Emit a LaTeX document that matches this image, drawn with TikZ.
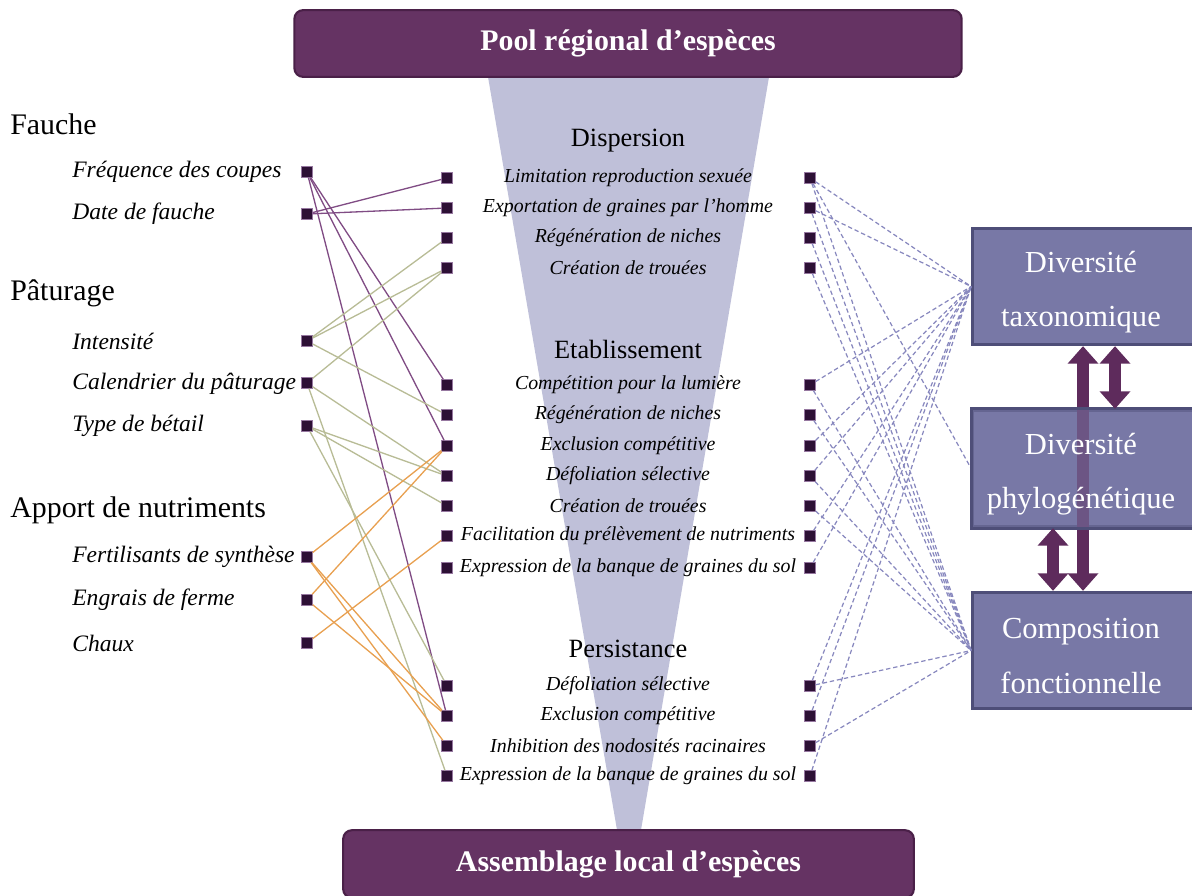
\documentclass[tikz,border=0pt]{standalone}
\usepackage{fontspec}
\setmainfont{Liberation Serif}
\usetikzlibrary{arrows.meta}
\definecolor{bannerc}{RGB}{101,51,99}
\definecolor{bannerb}{RGB}{74,32,72}
\definecolor{funnelc}{RGB}{191,192,217}
\definecolor{boxf}{RGB}{120,120,166}
\definecolor{boxb}{RGB}{78,78,120}
\definecolor{sqf}{RGB}{45,16,53}
\definecolor{sqb}{RGB}{150,120,160}
\definecolor{cmow}{RGB}{128,76,132}
\definecolor{cgraze}{RGB}{184,188,150}
\definecolor{cnut}{RGB}{232,160,80}
\definecolor{cdash}{RGB}{136,136,190}
\definecolor{arrowc}{RGB}{94,43,92}
\begin{document}
\begin{tikzpicture}[x=0.02cm,y=-0.02cm,
  sq/.style={draw=sqb, line width=0.3pt, fill=sqf, minimum size=6.2pt, inner sep=0pt},
  hdr/.style={anchor=west, font=\fontsize{17}{20}\selectfont, inner sep=0pt},
  itm/.style={anchor=west, font=\fontsize{13.4}{16}\selectfont\itshape, inner sep=0pt},
  ftitle/.style={font=\fontsize{15}{18}\selectfont, inner sep=0pt},
  fitem/.style={font=\fontsize{11.3}{14}\selectfont\itshape, inner sep=0pt},
  mow/.style={cmow, line width=0.75pt},
  graze/.style={cgraze, line width=0.75pt},
  nut/.style={cnut, line width=0.75pt},
  dsh/.style={cdash, line width=0.7pt, dash pattern=on 2.5pt off 1.6pt},
  bannerbox/.style={rectangle, rounded corners=5pt, fill=bannerc, draw=bannerb, line width=1.2pt, text=white, font=\bfseries\fontsize{17}{20}\selectfont},
  divbox/.style={rectangle, fill=boxf, draw=boxb, line width=1.6pt, minimum width=136pt, minimum height=66.3pt, inner sep=0pt},
  boxtxt/.style={text=white, align=center, font=\fontsize{17.4}{31}\selectfont, inner sep=0pt},
  dbl/.style={arrowc, line width=7pt, arrows={Triangle[width=17pt,length=10pt]-Triangle[width=17pt,length=10pt]}}
]
\useasboundingbox (0,0) rectangle (1192,895);
% funnel
\fill[funnelc] (488,77) -- (769,77) -- (641,830) -- (617,830) -- cycle;
% banners
\node[bannerbox, minimum width=379.8pt, minimum height=38pt] (pool) at (628,43.5) {Pool régional d’espèces};
\node[bannerbox, minimum width=324.8pt, minimum height=38.5pt] (local) at (628.5,864) {Assemblage local d’espèces};
% left texts
\node[hdr] (hF) at (10,124) {Fauche};
\node[hdr] (hP) at (10,293) {Pâturage};
\node[hdr] (hN) at (10,510) {Apport de nutriments};
\node[itm] (tLF) at (72,172) {Fréquence des coupes};
\node[itm] (tLD) at (72,214) {Date de fauche};
\node[itm] (tLI) at (72,341) {Intensité};
\node[itm] (tLC) at (72,384) {Calendrier du pâturage};
\node[itm] (tLT) at (72,426) {Type de bétail};
\node[itm] (tLFe) at (72,557) {Fertilisants de synthèse};
\node[itm] (tLE) at (72,600) {Engrais de ferme};
\node[itm] (tLCh) at (72,643) {Chaux};
% left squares
\node[sq] (LF) at (307,172) {};
\node[sq] (LD) at (307,214) {};
\node[sq] (LI) at (307,341) {};
\node[sq] (LC) at (307,383) {};
\node[sq] (LT) at (307,426) {};
\node[sq] (LFe) at (307,557) {};
\node[sq] (LE) at (307,600) {};
\node[sq] (LCh) at (307,643) {};
% funnel titles
\node[ftitle] (tDisp) at (628,141) {Dispersion};
\node[ftitle] (tEtab) at (628,349) {Etablissement};
\node[ftitle] (tPers) at (628,649) {Persistance};
% funnel items
\foreach \n/\y/\t in {D1/178/{Limitation reproduction sexuée},
  D2/208/{Exportation de graines par l’homme},
  D3/238/{Régénération de niches},
  D4/268/{Création de trouées},
  E1/385/{Compétition pour la lumière},
  E2/415/{Régénération de niches},
  E3/446/{Exclusion compétitive},
  E4/476/{Défoliation sélective},
  E5/506/{Création de trouées},
  E6/536/{Facilitation du prélèvement de nutriments},
  E7/568/{Expression de la banque de graines du sol},
  P1/686/{Défoliation sélective},
  P2/716/{Exclusion compétitive},
  P3/746/{Inhibition des nodosités racinaires},
  P4/776/{Expression de la banque de graines du sol}}{
  \node[sq] (a\n) at (447,\y) {};
  \node[sq] (b\n) at (810,\y) {};
  \node[fitem] (t\n) at (628,\y) {\t};
}
% mowing connectors
\draw[mow] (LD) -- (aD1);
\draw[mow] (LD) -- (aD2);
\draw[mow] (LF) -- (aE1);
\draw[mow] (LF) -- (aE3);
\draw[mow] (LF) -- (aP2);
% grazing connectors
\draw[graze] (LI) -- (aD3);
\draw[graze] (LI) -- (aD4);
\draw[graze] (LC) -- (aD4);
\draw[graze] (LI) -- (aE2);
\draw[graze] (LT) -- (aE4);
\draw[graze] (LT) -- (aE5);
\draw[graze] (LC) -- (aE4);
\draw[graze] (LT) -- (aP1);
\draw[graze] (LC) -- (aP4);
% nutrient connectors
\draw[nut] (LFe) -- (aE3);
\draw[nut] (LE) -- (aE3);
\draw[nut] (LCh) -- (aE6);
\draw[nut] (LFe) -- (aP2);
\draw[nut] (LFe) -- (aP3);
\draw[nut] (LE) -- (aP2);
% boxes
\node[divbox] (tax) at (1092,286.5) {};
\node[divbox] (phy) at (1092,468.5) {};
\node[divbox] (comp) at (1092,650.5) {};
% dashed connectors
\foreach \s in {D1,D2,E1,E3,E4,E6,E7,P1,P2,P4}{\draw[dsh] (b\s) -- (tax.west);}
\foreach \s in {D1}{\draw[dsh] (b\s) -- (phy.west);}
\foreach \s in {D1,D2,D3,D4,E1,E2,E4,E5,P1,P3}{\draw[dsh] (b\s) -- (comp.west);}
% double arrows
\coordinate (xa) at (1083,0);
\coordinate (xb) at (1115,0);
\coordinate (xc) at (1053,0);
\draw[dbl] (tax.south -| xa) -- (comp.north -| xa);
\fill[boxf, fill opacity=0.55] (phy.south west) rectangle (phy.north east);
\draw[boxb, line width=1.6pt] (phy.south west) rectangle (phy.north east);
\draw[dbl] (tax.south -| xb) -- (phy.north -| xb);
\draw[dbl] (phy.south -| xc) -- (comp.north -| xc);
% box texts
\node[boxtxt] (ttax) at (1081,292) {Diversité\\taxonomique};
\node[boxtxt] (tphy) at (1081,474) {Diversité\\phylogénétique};
\node[boxtxt] (tcomp) at (1081,656) {Composition\\fonctionnelle};
\end{tikzpicture}
\end{document}
